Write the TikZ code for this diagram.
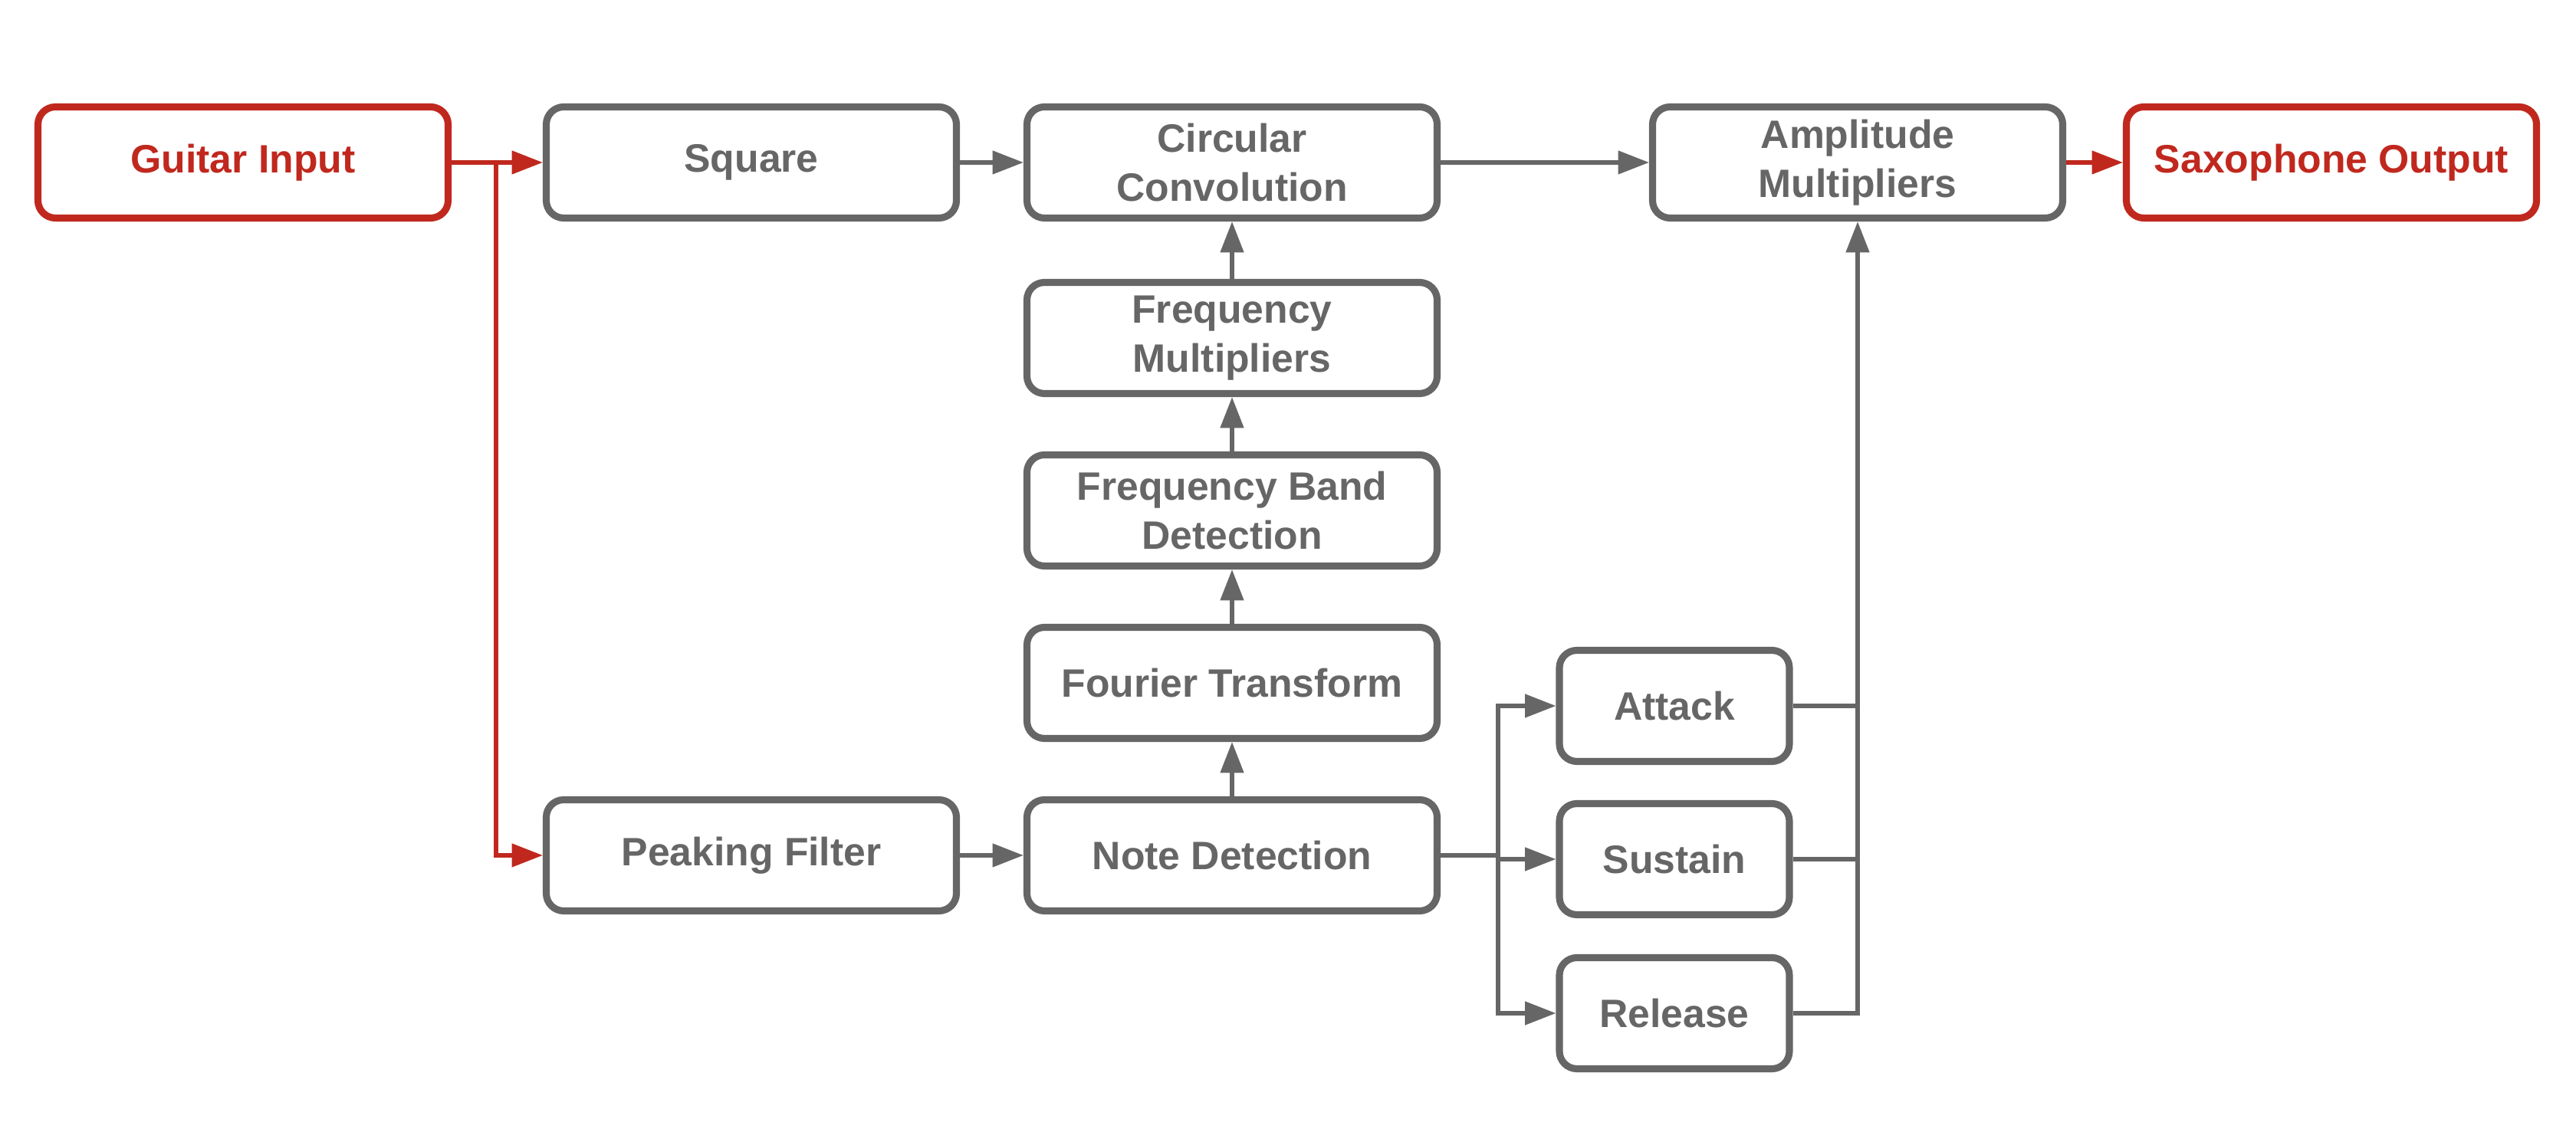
\documentclass[tikz,border=0pt]{standalone}
\usepackage{fontspec}
\setmainfont{Liberation Sans}
\usetikzlibrary{arrows.meta,positioning,calc}
\definecolor{boxgray}{HTML}{666666}
\definecolor{boxred}{RGB}{192,40,30}

\begin{document}
\begin{tikzpicture}[>={Triangle[length=11.5pt,width=8.5pt]},
  block/.style={draw=boxgray,text=boxgray,line width=2.6pt,rounded corners=6.5pt,fill=white,
    minimum width=5.35cm,minimum height=1.45cm,align=center,
    font=\fontsize{14.7}{18.2}\selectfont\bfseries},
  ioblock/.style={block,draw=boxred,text=boxred},
  env/.style={block,minimum width=3cm},
  link/.style={draw=boxgray,line width=1.5pt},
  redlink/.style={draw=boxred,line width=1.5pt}]
\useasboundingbox (0,0) rectangle (33.6,14.9);

\node[ioblock] (guitar) at (3.17,12.78) {Guitar Input};
\node[block] (square) at (9.80,12.78) {Square};
\node[block] (conv) at (16.07,12.78) {Circular\\Convolution};
\node[block] (amp) at (24.23,12.78) {Amplitude\\Multipliers};
\node[ioblock] (sax) at (30.41,12.78) {Saxophone Output};

\node[block] (fmult) at (16.07,10.49) {Frequency\\Multipliers};
\node[block] (band) at (16.07,8.24) {Frequency Band\\Detection};
\node[block] (fourier) at (16.07,5.99) {Fourier Transform};
\node[block] (note) at (16.07,3.74) {Note Detection};
\node[block] (peak) at (9.80,3.74) {Peaking Filter};

\node[env] (attack) at (21.84,5.69) {Attack};
\node[env] (sustain) at (21.84,3.69) {Sustain};
\node[env] (release) at (21.84,1.68) {Release};

\coordinate (tap) at (6.47,12.78);
\coordinate (split) at (19.54,3.74);

\draw[redlink,->] (guitar) -- (square);
\draw[redlink,->] (tap) |- (peak);
\draw[redlink,->] (amp) -- (sax);

\draw[link,->] (square) -- (conv);
\draw[link,->] (conv) -- (amp);
\draw[link,->] (peak) -- (note);
\draw[link,->] (note) -- (fourier);
\draw[link,->] (fourier) -- (band);
\draw[link,->] (band) -- (fmult);
\draw[link,->] (fmult) -- (conv);

\draw[link] (note) -- (split);
\foreach \e in {attack,sustain,release}
  \draw[link,->] (split) |- (\e);
\draw[link,->] (release) -| (amp);
\draw[link] (attack) -- (attack -| amp);
\draw[link] (sustain) -- (sustain -| amp);
\end{tikzpicture}
\end{document}
